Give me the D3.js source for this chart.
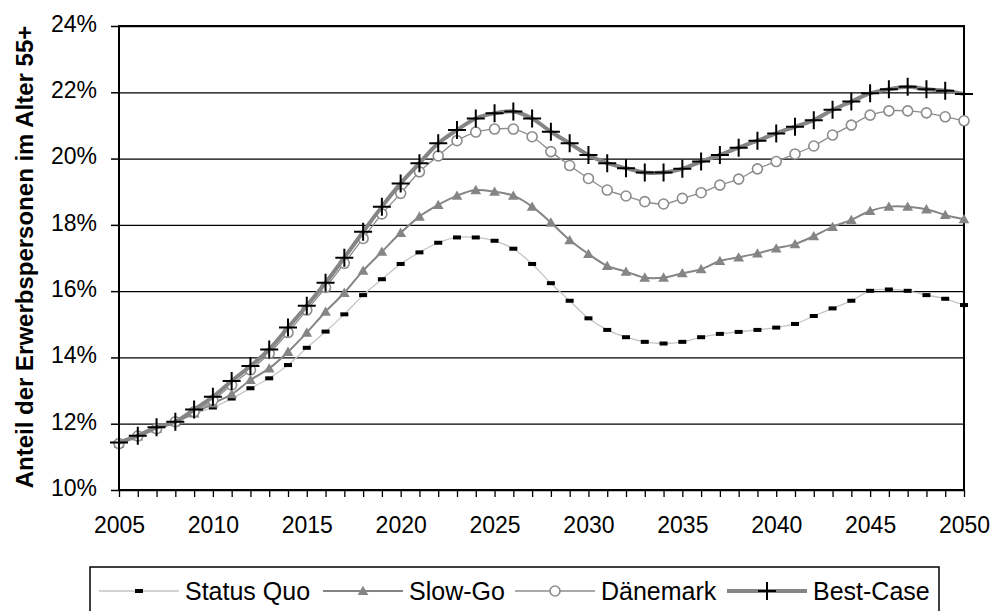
<!DOCTYPE html>
<html>
<head>
<meta charset="utf-8">
<script src="https://cdn.jsdelivr.net/npm/d3@7"></script>
<style>
  body { margin: 0; background: #fff; }
  text { font-family: "Liberation Sans", Arial, sans-serif; }
</style>
</head>
<body>
<div id="my_dataviz"></div>
<script>
// categories (years) and the four scenarios, values in percent
var years = [2005, 2006, 2007, 2008, 2009, 2010, 2011, 2012, 2013, 2014,
  2015, 2016, 2017, 2018, 2019, 2020, 2021, 2022, 2023, 2024,
  2025, 2026, 2027, 2028, 2029, 2030, 2031, 2032, 2033, 2034,
  2035, 2036, 2037, 2038, 2039, 2040, 2041, 2042, 2043, 2044,
  2045, 2046, 2047, 2048, 2049, 2050]

var statusQuo = [11.4, 11.62, 11.84, 12.05, 12.3, 12.49, 12.76, 13.07, 13.37, 13.77,
  14.29, 14.78, 15.3, 15.88, 16.36, 16.82, 17.17, 17.46, 17.62, 17.62,
  17.52, 17.28, 16.82, 16.24, 15.71, 15.18, 14.83, 14.61, 14.47, 14.42,
  14.47, 14.61, 14.71, 14.77, 14.83, 14.9, 15.01, 15.25, 15.48, 15.71,
  16.01, 16.05, 16.01, 15.88, 15.77, 15.58]

var slowGo = [11.4, 11.62, 11.84, 12.05, 12.31, 12.61, 12.89, 13.32, 13.67, 14.17,
  14.75, 15.38, 15.95, 16.62, 17.19, 17.76, 18.25, 18.6, 18.88, 19.05,
  19.0, 18.88, 18.55, 18.07, 17.54, 17.12, 16.76, 16.59, 16.41, 16.41,
  16.54, 16.66, 16.91, 17.02, 17.14, 17.29, 17.42, 17.66, 17.94, 18.15,
  18.42, 18.55, 18.55, 18.47, 18.3, 18.17]

var daenemark = [11.4, 11.63, 11.85, 12.06, 12.36, 12.71, 13.17, 13.62, 14.12, 14.75,
  15.43, 16.11, 16.84, 17.59, 18.33, 18.95, 19.6, 20.08, 20.54, 20.8,
  20.89, 20.89, 20.66, 20.21, 19.79, 19.4, 19.05, 18.87, 18.7, 18.63,
  18.8, 18.97, 19.2, 19.38, 19.69, 19.91, 20.14, 20.38, 20.71, 21.01,
  21.31, 21.44, 21.44, 21.38, 21.26, 21.14]

var bestCase = [11.43, 11.64, 11.89, 12.06, 12.43, 12.81, 13.29, 13.74, 14.24, 14.9,
  15.56, 16.25, 17.01, 17.79, 18.55, 19.25, 19.86, 20.46, 20.86, 21.21,
  21.37, 21.42, 21.21, 20.81, 20.46, 20.11, 19.86, 19.71, 19.58, 19.58,
  19.69, 19.91, 20.11, 20.33, 20.54, 20.76, 20.96, 21.16, 21.47, 21.72,
  21.97, 22.09, 22.17, 22.09, 22.05, 21.95]

var seriesNames = ["Status Quo", "Slow-Go", "Dänemark", "Best-Case"]
var yTicks = [10, 12, 14, 16, 18, 20, 22, 24]
var xLabelYears = [2005, 2010, 2015, 2020, 2025, 2030, 2035, 2040, 2045, 2050]
var yTitle = "Anteil der Erwerbspersonen im Alter 55+"

// set the dimensions and margins of the graph
var margin = { top: 26, right: 42, bottom: 121, left: 119 },
  width = 1006 - margin.left - margin.right,
  height = 611 - margin.top - margin.bottom;

var root = d3.select("#my_dataviz")
  .append("svg")
  .attr("width", 1006)
  .attr("height", 611)

var svg = root.append("g")
  .attr("transform", "translate(" + margin.left + "," + margin.top + ")")

var xScale = d3.scaleLinear().domain([2005, 2050]).range([0, width])
var yScale = d3.scaleLinear().domain([10, 24]).range([height, 0])

// horizontal grid lines
svg.append("g")
  .call(d3.axisLeft(yScale).tickValues(yTicks).tickSize(-width).tickFormat(""))
  .call(function (g) { g.select(".domain").remove() })
  .selectAll(".tick line")
  .attr("stroke", "#000")
  .attr("stroke-width", 1.3)

// Y axis
var yAxis = svg.append("g")
  .call(d3.axisLeft(yScale).tickValues(yTicks).tickSize(8).tickPadding(14)
    .tickFormat(function (d) { return d + "%" }))
yAxis.selectAll("text")
  .attr("y", -2)
  .style("font-size", "23px")
  .attr("fill", "#000")
yAxis.selectAll("line").attr("stroke-width", 1.5)

// X axis: a tick every year, a label every 5 years
var xAxis = svg.append("g")
  .attr("transform", "translate(0," + height + ")")
  .call(d3.axisBottom(xScale).tickValues(years).tickSize(7)
    .tickFormat(function (d) { return xLabelYears.indexOf(d) >= 0 ? d : "" }))
xAxis.selectAll("text")
  .attr("y", 27)
  .style("font-size", "23px")
  .attr("fill", "#000")
xAxis.selectAll("line").attr("stroke-width", 1.3)
xAxis.select(".domain").remove()

// plot frame
svg.append("rect")
  .attr("x", 0).attr("y", 0)
  .attr("width", width).attr("height", height)
  .attr("fill", "none")
  .attr("stroke", "#000")
  .attr("stroke-width", 2)

// Y axis label
root.append("text")
  .attr("transform", "rotate(-90)")
  .attr("x", -257)
  .attr("y", 33)
  .attr("text-anchor", "middle")
  .style("font-size", "24px")
  .style("font-weight", "bold")
  .text(yTitle)

// styles for each scenario
var styles = {
  "Status Quo": { values: statusQuo, line: "#c4c4c4", lw: 1.3, marker: "dash" },
  "Slow-Go": { values: slowGo, line: "#858585", lw: 2, marker: "triangle" },
  "Dänemark": { values: daenemark, line: "#8c8c8c", lw: 1.3, marker: "circle" },
  "Best-Case": { values: bestCase, line: "#858585", lw: 4, marker: "plus" }
}

var line = d3.line()
  .x(function (d) { return xScale(d.year) })
  .y(function (d) { return yScale(d.value) })
  .curve(d3.curveCatmullRom.alpha(0.5))

function drawMarker(g, type) {
  if (type == "dash") {
    g.append("rect").attr("x", -4).attr("y", -2).attr("width", 8).attr("height", 4)
      .attr("fill", "#000")
  } else if (type == "triangle") {
    g.append("path").attr("d", d3.symbol().type(d3.symbolTriangle).size(50)())
      .attr("fill", "#858585").attr("transform", "translate(0,1)")
  } else if (type == "circle") {
    g.append("circle").attr("r", 5).attr("fill", "#fff")
      .attr("stroke", "#8c8c8c").attr("stroke-width", 1.6)
  } else {
    g.append("path").attr("d", "M-9,0H9M0,-9V9")
      .attr("stroke", "#000").attr("stroke-width", 2)
  }
}

seriesNames.forEach(function (name) {
  var s = styles[name]
  var data = years.map(function (y, i) { return { year: y, value: s.values[i] } })

  svg.append("path")
    .datum(data)
    .attr("fill", "none")
    .attr("stroke", s.line)
    .attr("stroke-width", s.lw)
    .attr("d", line)

  svg.append("g")
    .selectAll("g")
    .data(data)
    .enter()
    .append("g")
    .attr("transform", function (d) { return "translate(" + xScale(d.year) + "," + yScale(d.value) + ")" })
    .each(function () { drawMarker(d3.select(this), s.marker) })
})

// legend box at the bottom
var legend = root.append("g")
legend.append("rect")
  .attr("x", 90).attr("y", 567)
  .attr("width", 849).attr("height", 60)
  .attr("fill", "#fff")
  .attr("stroke", "#000")
  .attr("stroke-width", 1.5)

var legendX = [99, 323, 515, 727]
seriesNames.forEach(function (name, i) {
  var s = styles[name]
  var item = legend.append("g").attr("transform", "translate(" + legendX[i] + ",591)")
  item.append("line")
    .attr("x1", 0).attr("x2", 80)
    .attr("stroke", s.line)
    .attr("stroke-width", s.lw)
  drawMarker(item.append("g").attr("transform", "translate(40,0)"), s.marker)
  item.append("text")
    .attr("x", 86)
    .attr("dy", "0.35em")
    .style("font-size", "25px")
    .text(name)
})
</script>
</body>
</html>
